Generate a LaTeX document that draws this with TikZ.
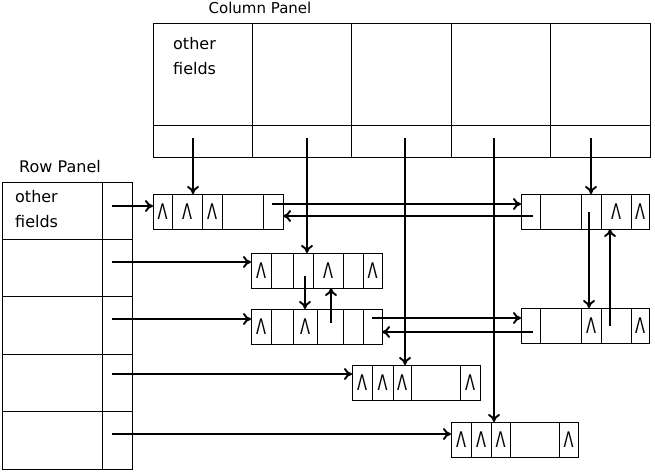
\documentclass[tikz,border=0pt]{standalone}
\usepackage{fontspec}
\setmainfont{DejaVu Sans}
\usepackage{graphicx}
\usetikzlibrary{arrows.meta, positioning}
\newcommand{\nilptr}{\scalebox{0.68}[1]{Λ}}

\begin{document}
\begin{tikzpicture}[x=1pt, y=-1pt, >={Computer Modern Rightarrow[length=8pt,width=12pt]}, font=\fontsize{16}{25}\selectfont,
  panel/.style={draw, line width=0.8pt, outer sep=0pt, inner sep=0pt},
  colfield/.style={panel, minimum width=99.4pt, minimum height=102pt},
  colptr/.style={panel, minimum width=99.4pt, minimum height=32pt},
  rowfield/.style={panel, minimum width=100pt, minimum height=57.4pt},
  rowptr/.style={panel, minimum width=30pt, minimum height=57.4pt},
  cell/.style={draw, line width=0.8pt, outer sep=0pt, inner sep=0pt, minimum height=35pt, font=\fontsize{21.5}{21.5}\selectfont},
  link/.style={->, line width=1.9pt}]
\useasboundingbox (0,0) rectangle (655,472);

% column panel
\node[colfield, anchor=north west] (cf1) at (153,23) {};
\node[colfield, right=0pt of cf1] (cf2) {};
\node[colfield, right=0pt of cf2] (cf3) {};
\node[colfield, right=0pt of cf3] (cf4) {};
\node[colfield, right=0pt of cf4] (cf5) {};
\node[colptr, below=0pt of cf1] (cp1) {};
\node[colptr, below=0pt of cf2] (cp2) {};
\node[colptr, below=0pt of cf3] (cp3) {};
\node[colptr, below=0pt of cf4] (cp4) {};
\node[colptr, below=0pt of cf5] (cp5) {};
\node[anchor=base, font=\fontsize{15}{15}\selectfont] (colname) at (260,13.5) {Column Panel};
\node[anchor=north west, inner sep=0pt, align=left] (coltext) at (173,37) {other\\fields};

% row panel
\node[rowfield, anchor=north west] (rf1) at (2,182) {};
\node[rowfield, below=0pt of rf1] (rf2) {};
\node[rowfield, below=0pt of rf2] (rf3) {};
\node[rowfield, below=0pt of rf3] (rf4) {};
\node[rowfield, below=0pt of rf4] (rf5) {};
\node[rowptr, right=0pt of rf1] (rp1) {};
\node[rowptr, right=0pt of rf2] (rp2) {};
\node[rowptr, right=0pt of rf3] (rp3) {};
\node[rowptr, right=0pt of rf4] (rp4) {};
\node[rowptr, right=0pt of rf5] (rp5) {};
\node[anchor=base] (rowname) at (60,172) {Row Panel};
\node[anchor=north west, inner sep=0pt, align=left] (rowtext) at (15,190) {other\\fields};

% element row 1, column 1
\node[cell, minimum width=19pt, anchor=north west] (e11-1) at (153,194) {\nilptr};
\node[cell, minimum width=30pt, right=0pt of e11-1] (e11-2) {\nilptr};
\node[cell, minimum width=20pt, right=0pt of e11-2] (e11-3) {\nilptr};
\node[cell, minimum width=41pt, right=0pt of e11-3] (e11-4) {};
\node[cell, minimum width=20pt, right=0pt of e11-4] (e11-5) {};

% element row 1, column 5
\node[cell, minimum width=19pt, anchor=north west] (e15-1) at (521,194) {};
\node[cell, minimum width=41pt, right=0pt of e15-1] (e15-2) {};
\node[cell, minimum width=20pt, right=0pt of e15-2] (e15-3) {};
\node[cell, minimum width=30pt, right=0pt of e15-3] (e15-4) {\nilptr};
\node[cell, minimum width=18pt, right=0pt of e15-4] (e15-5) {\nilptr};

% element row 2, column 2
\node[cell, minimum width=20pt, anchor=north west] (e22-1) at (251,253) {\nilptr};
\node[cell, minimum width=22pt, right=0pt of e22-1] (e22-2) {};
\node[cell, minimum width=20pt, right=0pt of e22-2] (e22-3) {};
\node[cell, minimum width=30pt, right=0pt of e22-3] (e22-4) {\nilptr};
\node[cell, minimum width=20pt, right=0pt of e22-4] (e22-5) {};
\node[cell, minimum width=19pt, right=0pt of e22-5] (e22-6) {\nilptr};

% element row 3, column 2
\node[cell, minimum width=20pt, anchor=north west] (e32-1) at (251,309) {\nilptr};
\node[cell, minimum width=22pt, right=0pt of e32-1] (e32-2) {};
\node[cell, minimum width=24pt, right=0pt of e32-2] (e32-3) {\nilptr};
\node[cell, minimum width=26pt, right=0pt of e32-3] (e32-4) {};
\node[cell, minimum width=20pt, right=0pt of e32-4] (e32-5) {};
\node[cell, minimum width=19pt, right=0pt of e32-5] (e32-6) {};

% element row 3, column 5
\node[cell, minimum width=19pt, anchor=north west] (e35-1) at (521,308) {};
\node[cell, minimum width=41pt, right=0pt of e35-1] (e35-2) {};
\node[cell, minimum width=20pt, right=0pt of e35-2] (e35-3) {\nilptr};
\node[cell, minimum width=30pt, right=0pt of e35-3] (e35-4) {};
\node[cell, minimum width=18pt, right=0pt of e35-4] (e35-5) {\nilptr};

% element row 4, column 3
\node[cell, minimum width=20pt, anchor=north west] (e43-1) at (352,365) {\nilptr};
\node[cell, minimum width=21pt, right=0pt of e43-1] (e43-2) {\nilptr};
\node[cell, minimum width=18pt, right=0pt of e43-2] (e43-3) {\nilptr};
\node[cell, minimum width=49pt, right=0pt of e43-3] (e43-4) {};
\node[cell, minimum width=20pt, right=0pt of e43-4] (e43-5) {\nilptr};

% element row 5, column 4
\node[cell, minimum width=20pt, anchor=north west] (e54-1) at (451,422) {\nilptr};
\node[cell, minimum width=20pt, right=0pt of e54-1] (e54-2) {\nilptr};
\node[cell, minimum width=19pt, right=0pt of e54-2] (e54-3) {\nilptr};
\node[cell, minimum width=49pt, right=0pt of e54-3] (e54-4) {};
\node[cell, minimum width=19pt, right=0pt of e54-4] (e54-5) {\nilptr};

% pointer start points
\coordinate (cs1) at (193,138);
\coordinate (cs2) at (307,138);
\coordinate (cs3) at (405,138);
\coordinate (cs4) at (494,138);
\coordinate (cs5) at (591,138);
\coordinate (rs1) at (112,206);
\coordinate (rs2) at (112,262);
\coordinate (rs3) at (112,319);
\coordinate (rs4) at (112,374);
\coordinate (rs5) at (112,434);
\coordinate (e11-right) at (272,204);
\coordinate (e15-left) at (533,216);
\coordinate (e32-right) at (372,318);
\coordinate (e35-left) at (533,332);
\coordinate (e22-down) at (305,276);
\coordinate (e32-up) at (331,323);
\coordinate (e15-down) at (589,212);
\coordinate (e35-up) at (610,326);

% column pointers
\draw[link] (cs1) -- (cs1 |- e11-2.north);
\draw[link] (cs2) -- (cs2 |- e22-3.north);
\draw[link] (cs3) -- (cs3 |- e43-3.north);
\draw[link] (cs4) -- (cs4 |- e54-3.north);
\draw[link] (cs5) -- (cs5 |- e15-3.north);

% row pointers
\draw[link] (rs1) -- (rs1 -| e11-1.west);
\draw[link] (rs2) -- (rs2 -| e22-1.west);
\draw[link] (rs3) -- (rs3 -| e32-1.west);
\draw[link] (rs4) -- (rs4 -| e43-1.west);
\draw[link] (rs5) -- (rs5 -| e54-1.west);

% links between elements
\draw[link] (e11-right) -- (e11-right -| e15-1.west);
\draw[link] (e15-left) -- (e15-left -| e11-5.east);
\draw[link] (e32-right) -- (e32-right -| e35-1.west);
\draw[link] (e35-left) -- (e35-left -| e32-6.east);
\draw[link] (e22-down) -- (e22-down |- e32-3.north);
\draw[link] (e32-up) -- (e32-up |- e22-4.south);
\draw[link] (e15-down) -- (e15-down |- e35-3.north);
\draw[link] (e35-up) -- (e35-up |- e15-4.south);
\end{tikzpicture}
\end{document}
